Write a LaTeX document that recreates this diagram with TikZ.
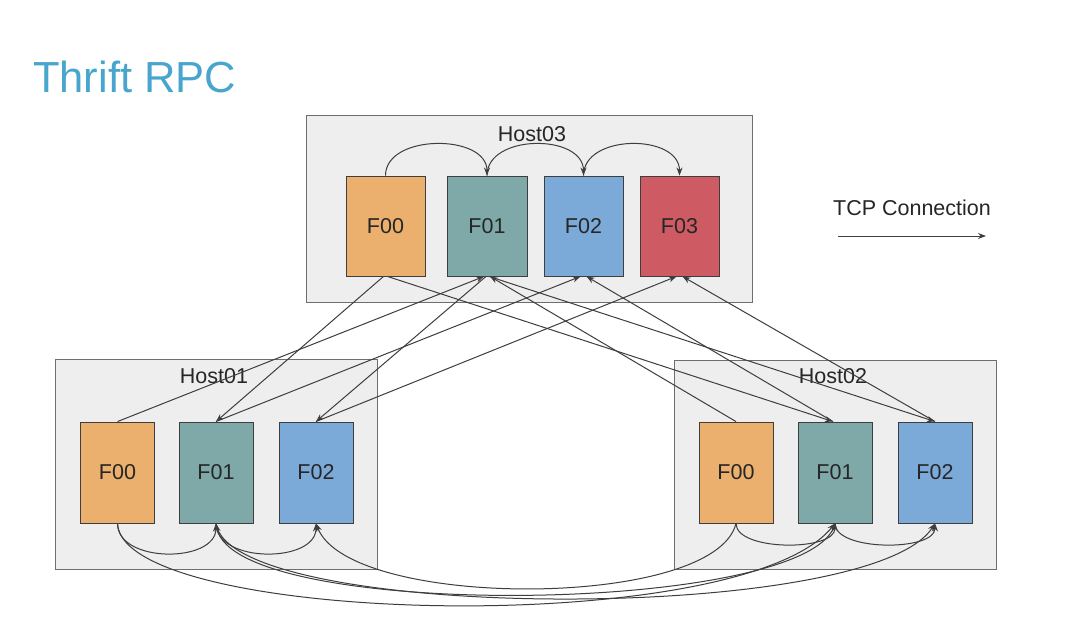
\documentclass[tikz,border=0pt]{standalone}
\usepackage{fontspec}
\setmainfont{Liberation Sans}
\usetikzlibrary{arrows.meta}
\definecolor{hostfill}{RGB}{237,238,237}
\definecolor{hostdraw}{RGB}{110,110,110}
\definecolor{cA}{RGB}{235,175,110}
\definecolor{cB}{RGB}{127,168,168}
\definecolor{cC}{RGB}{124,170,216}
\definecolor{cD}{RGB}{206,90,100}
\definecolor{linec}{RGB}{62,62,62}
\definecolor{titlec}{RGB}{72,166,206}
\begin{document}
\begin{tikzpicture}[x=1pt,y=-1pt,
  host/.style={draw=hostdraw, fill=hostfill, line width=1pt, inner sep=0pt},
  hostlabel/.style={anchor=base, inner sep=0pt, font=\fontsize{21.5}{24}\selectfont, text=black!85},
  proc/.style={draw=linec, line width=0.9pt, inner sep=0pt, minimum height=100pt,
    font=\fontsize{21.5}{24}\selectfont, text=black!85},
  bigproc/.style={proc, minimum width=79pt},
  smallproc/.style={proc, minimum width=74pt, minimum height=101pt},
  conn/.style={draw=linec, line width=1pt, -{Stealth[length=8pt,width=6pt]}}]
\useasboundingbox (0,0) rectangle (1080,621);
\fill[white] (0,0) rectangle (1080,621);

% title
\node[anchor=base west, inner sep=0pt, font=\fontsize{43.5}{48}\selectfont, text=titlec] (title) at (33,92) {Thrift RPC};

% hosts
\node[host, minimum width=446pt, minimum height=187pt] (host3) at (529,208.5) {};
\node[host, minimum width=322pt, minimum height=210pt] (host1) at (216,464) {};
\node[host, minimum width=322pt, minimum height=209pt] (host2) at (835,464.5) {};
\node[hostlabel] (host3l) at (532,141) {Host03};
\node[hostlabel] (host1l) at (214,383) {Host01};
\node[hostlabel] (host2l) at (833,383) {Host02};

% Host03 processes
\node[bigproc, fill=cA] (h3f00) at (385.5,226) {F00};
\node[bigproc, fill=cB, minimum width=80pt] (h3f01) at (487,226) {F01};
\node[bigproc, fill=cC] (h3f02) at (583.5,226) {F02};
\node[bigproc, fill=cD] (h3f03) at (679.5,226) {F03};

% Host01 processes
\node[smallproc, fill=cA] (h1f00) at (117.5,472.5) {F00};
\node[smallproc, fill=cB] (h1f01) at (216,472.5) {F01};
\node[smallproc, fill=cC] (h1f02) at (316,472.5) {F02};

% Host02 processes
\node[smallproc, fill=cA] (h2f00) at (736,472.5) {F00};
\node[smallproc, fill=cB] (h2f01) at (835,472.5) {F01};
\node[smallproc, fill=cC] (h2f02) at (935,472.5) {F02};

% arcs inside Host03
\draw[conn] (h3f00.north) .. controls +(0,-42) and +(0,-42) .. (h3f01.north);
\draw[conn] (h3f01.north) .. controls +(0,-42) and +(0,-42) .. (h3f02.north);
\draw[conn] (h3f02.north) .. controls +(0,-42) and +(0,-42) .. (h3f03.north);

% arcs inside Host01 / Host02
\draw[conn] (h1f00.south) .. controls +(0,40) and +(0,40) .. (h1f01.south);
\draw[conn] (h1f01.south) .. controls +(0,40) and +(0,40) .. (h1f02.south);
\draw[conn] (h2f00.south) .. controls +(0,28) and +(0,28) .. (h2f01.south);
\draw[conn] (h2f01.south) .. controls +(0,28) and +(0,28) .. (h2f02.south);

% straight connections between hosts
\draw[conn] ([xshift=-2pt]h3f00.south) -- (h1f01.north);
\draw[conn] ([xshift=2pt]h3f00.south) -- ([xshift=-2pt]h2f01.north);
\draw[conn] (h1f00.north) -- ([xshift=-3pt]h3f01.south);
\draw[conn] ([xshift=-1pt]h3f01.south) -- (h1f02.north);
\draw[conn] (h1f01.north) -- ([xshift=-3pt]h3f02.south);
\draw[conn] (h1f02.north) -- ([xshift=-3pt]h3f03.south);
\draw[conn] (h2f00.north) -- ([xshift=3pt]h3f01.south);
\draw[conn] ([xshift=2pt]h3f01.south) -- (h2f02.north);
\draw[conn] ([xshift=-2pt]h2f01.north) -- ([xshift=3pt]h3f02.south);
\draw[conn] (h2f02.north) -- ([xshift=3pt]h3f03.south);

% long curves between Host01 and Host02
\draw[conn] (h1f00.south) .. controls (122,625) and (740,640) .. (h2f01.south);
\draw[conn] (h2f00.south) .. controls (715,610) and (350,610) .. (h1f02.south);
\draw[conn] (h1f01.south) .. controls (230,622) and (870,625) .. (h2f02.south);
\draw[conn] (h2f01.south) .. controls (815,615) and (235,622) .. (h1f01.south);

% legend
\node[anchor=base, inner sep=0pt, font=\fontsize{21.5}{24}\selectfont, text=black!85] (legend) at (912,215) {TCP Connection};
\coordinate (l1) at (838,236);
\coordinate (l2) at (986,236);
\draw[conn] (l1) -- (l2);
\end{tikzpicture}
\end{document}
